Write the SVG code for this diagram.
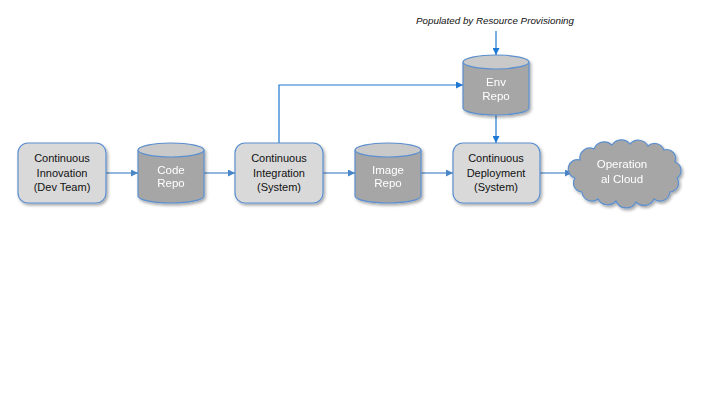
<svg xmlns="http://www.w3.org/2000/svg" width="720" height="405" viewBox="0 0 720 405">
<defs>
<filter id="sh" x="-20%" y="-20%" width="140%" height="140%"><feDropShadow dx="1.5" dy="2" stdDeviation="1.5" flood-color="#000" flood-opacity="0.35"/></filter>
<marker id="ah" viewBox="0 0 10 10" refX="10" refY="5" markerWidth="7" markerHeight="7" markerUnits="userSpaceOnUse" orient="auto"><path d="M0,0 L10,5 L0,10 z" fill="#4a86c8"/></marker>
<marker id="ah2" viewBox="0 0 10 10" refX="10" refY="5" markerWidth="7" markerHeight="7" markerUnits="userSpaceOnUse" orient="auto"><path d="M0,0 L10,5 L0,10 z" fill="#1f78d1"/></marker>
</defs>
<style>
.box{fill:#d9d9d9;stroke:#5b8fd0;stroke-width:1.2;filter:url(#sh)}
.cyl{fill:#a6a6a6;stroke:#5b8fd0;stroke-width:1.2}
.cyltop{fill:#c9c9c9;stroke:#5b8fd0;stroke-width:1.2}
.t{font-family:"Liberation Sans",Arial,sans-serif;font-size:11px;fill:#111;text-anchor:middle}
.w{font-family:"Liberation Sans",Arial,sans-serif;font-size:11.5px;fill:#fff;text-anchor:middle}
.c{fill:none;stroke:#4a86c8;stroke-width:1.2;marker-end:url(#ah)}
.c2{fill:none;stroke:#1f78d1;stroke-width:1.2;marker-end:url(#ah2)}
</style>
<rect width="720" height="405" fill="#fff"/>
<text x="495" y="24" font-family="Liberation Sans,Arial,sans-serif" font-size="9.8px" font-style="italic" fill="#111" text-anchor="middle">Populated by Resource Provisioning</text>
<g id="connectors">
<line class="c" x1="106" y1="173" x2="138" y2="173"/>
<line class="c" x1="204" y1="173" x2="235" y2="173"/>
<line class="c" x1="323" y1="173" x2="355" y2="173"/>
<line class="c" x1="421" y1="173" x2="453" y2="173"/>
<line class="c" x1="540" y1="173" x2="572" y2="173"/>
<path class="c2" d="M279,143 V85 H463"/>
<line class="c2" x1="496" y1="31" x2="496" y2="55"/>
<line class="c2" x1="496" y1="115" x2="496" y2="143"/>
</g>
<g id="ci-dev">
<rect class="box" x="18" y="143" width="88" height="60" rx="10"/>
<text class="t" x="62" y="162">Continuous</text>
<text class="t" x="62" y="177">Innovation</text>
<text class="t" x="62" y="191">(Dev Team)</text>
</g>
<g id="code-repo" filter="url(#sh)">
<path class="cyl" d="M138,150 V196 A33,7 0 0 0 204,196 V150"/>
<ellipse class="cyltop" cx="171" cy="150" rx="33" ry="7"/>
<text class="w" x="171" y="174">Code</text>
<text class="w" x="171" y="187">Repo</text>
</g>
<g id="ci-system">
<rect class="box" x="235" y="143" width="88" height="60" rx="10"/>
<text class="t" x="279" y="162">Continuous</text>
<text class="t" x="279" y="177">Integration</text>
<text class="t" x="279" y="191">(System)</text>
</g>
<g id="image-repo" filter="url(#sh)">
<path class="cyl" d="M355,150 V196 A33,7 0 0 0 421,196 V150"/>
<ellipse class="cyltop" cx="388" cy="150" rx="33" ry="7"/>
<text class="w" x="388" y="174">Image</text>
<text class="w" x="388" y="187">Repo</text>
</g>
<g id="env-repo" filter="url(#sh)">
<path class="cyl" d="M463,62 V108 A33,7 0 0 0 529,108 V62"/>
<ellipse class="cyltop" cx="496" cy="62" rx="33" ry="7"/>
<text class="w" x="496" y="86">Env</text>
<text class="w" x="496" y="100">Repo</text>
</g>
<g id="cd-system">
<rect class="box" x="453" y="143" width="87" height="60" rx="10"/>
<text class="t" x="496" y="162">Continuous</text>
<text class="t" x="496" y="177">Deployment</text>
<text class="t" x="496" y="191">(System)</text>
</g>
<g id="cloud" filter="url(#sh)">
<path d="M580,160 A10,10 0 0 1 594,149 A11,11 0 0 1 612,145 A11,11 0 0 1 630,144 A11,11 0 0 1 648,146 A10,10 0 0 1 664,150 A9,9 0 0 1 675,162 A9,9 0 0 1 677,178 A9,9 0 0 1 670,192 A10,10 0 0 1 654,199 A11,11 0 0 1 636,202 A11,11 0 0 1 616,201 A11,11 0 0 1 598,199 A10,10 0 0 1 582,192 A9,9 0 0 1 575,178 A9,9 0 0 1 580,160 Z" fill="#a6a6a6" stroke="#5b8fd0" stroke-width="1.2"/>
<text class="w" x="622" y="168">Operation</text>
<text class="w" x="622" y="183">al Cloud</text>
</g>
</svg>
